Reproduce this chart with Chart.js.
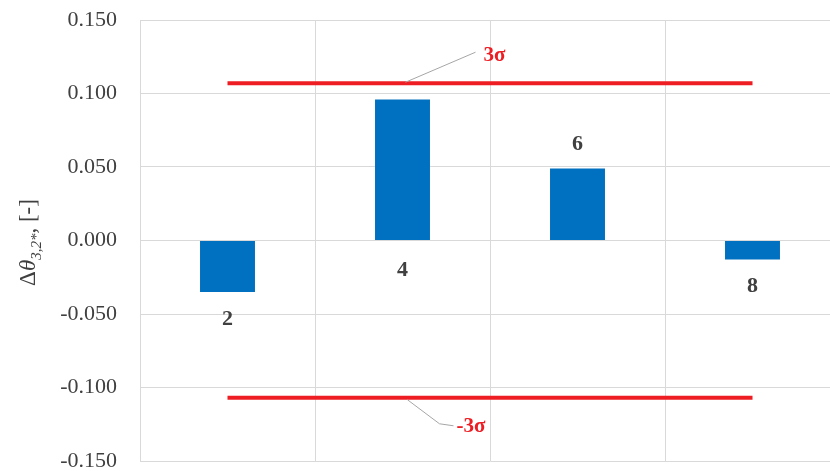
<!DOCTYPE html>
<html>
<head>
<meta charset="utf-8">
<script src="https://cdn.jsdelivr.net/npm/chart.js@4/dist/chart.umd.min.js"></script>
<style>
  html, body { margin: 0; padding: 0; background: #fff; overflow: hidden; }
  #wrap { width: 830px; height: 471px; overflow: hidden; }
</style>
</head>
<body>
<div id="wrap"><canvas id="myChart" width="845" height="471"></canvas></div>
<script>
// values
const categories = ['2', '4', '6', '8'];
const deltaTheta = [-0.035, 0.096, 0.049, -0.013];
const upperLimit = [0.107, 0.107, 0.107, 0.107];   // +3 sigma
const lowerLimit = [-0.107, -0.107, -0.107, -0.107]; // -3 sigma
const yTicks = [-0.150, -0.100, -0.050, 0.000, 0.050, 0.100, 0.150];

const serif = '"Liberation Serif", "Times New Roman", serif';
const blue = '#0070C0';
const red = '#EE1D23';

// category names next to each bar, like the excel data labels
const barLabels = {
  id: 'barLabels',
  afterDatasetsDraw(chart, args, opts) {
    const ctx = chart.ctx;
    const meta = chart.getDatasetMeta(0);
    ctx.save();
    ctx.font = 'bold 22px ' + serif;
    ctx.fillStyle = '#404040';
    ctx.textAlign = 'center';
    ctx.textBaseline = 'middle';
    meta.data.forEach(function (bar, i) {
      const v = deltaTheta[i];
      let y;
      if (opts.side[i] === 'base') {
        y = bar.base + (v >= 0 ? 30 : -30);
      } else {
        y = bar.y + (v >= 0 ? -24 : 27);
      }
      ctx.fillText(categories[i], bar.x, y);
    });
    ctx.restore();
  }
};

// "3σ" / "-3σ" callouts with grey leader lines
const sigmaNotes = {
  id: 'sigmaNotes',
  afterDatasetsDraw(chart) {
    const ctx = chart.ctx;
    const xs = chart.scales.x, ys = chart.scales.y;
    const ax = xs.getPixelForValue(1) + 3;
    const up = ys.getPixelForValue(upperLimit[1]);
    const lo = ys.getPixelForValue(lowerLimit[1]);
    ctx.save();
    ctx.strokeStyle = '#a6a6a6';
    ctx.lineWidth = 1;
    ctx.beginPath();
    ctx.moveTo(ax, up - 1);
    ctx.lineTo(ax + 70, up - 31);
    ctx.stroke();
    ctx.beginPath();
    ctx.moveTo(ax + 2, lo + 2);
    ctx.lineTo(ax + 34, lo + 26);
    ctx.lineTo(ax + 48, lo + 28);
    ctx.stroke();
    ctx.font = 'bold 21px ' + serif;
    ctx.fillStyle = red;
    ctx.textBaseline = 'middle';
    ctx.textAlign = 'left';
    ctx.fillText('3σ', ax + 78, up - 28);
    ctx.fillText('-3σ', ax + 51, lo + 29);
    ctx.restore();
  }
};

// rotated y-axis title with subscript
const yTitle = {
  id: 'yTitle',
  afterDraw(chart) {
    const ctx = chart.ctx;
    const area = chart.chartArea;
    const parts = [
      { t: 'Δ', f: '23px ' + serif, dy: 0 },
      { t: 'θ', f: 'italic 23px ' + serif, dy: 0 },
      { t: '3,2*', f: 'italic 15px ' + serif, dy: 6 },
      { t: ', [-]', f: '23px ' + serif, dy: 0 }
    ];
    ctx.save();
    ctx.fillStyle = '#404040';
    ctx.textBaseline = 'alphabetic';
    let w = 0;
    parts.forEach(p => { ctx.font = p.f; p.w = ctx.measureText(p.t).width; w += p.w; });
    ctx.translate(35, (area.top + area.bottom) / 2 + 2);
    ctx.rotate(-Math.PI / 2);
    let x = -w / 2;
    parts.forEach(p => { ctx.font = p.f; ctx.fillText(p.t, x, p.dy); x += p.w; });
    ctx.restore();
  }
};

const ctx = document.getElementById('myChart').getContext('2d');
const myChart = new Chart(ctx, {
  data: {
    labels: categories,
    datasets: [
      { type: 'bar', data: deltaTheta, backgroundColor: blue, borderWidth: 0,
        categoryPercentage: 1, barPercentage: 0.314, order: 2 },
      { type: 'line', data: upperLimit, borderColor: red, borderWidth: 4,
        pointRadius: 0, borderCapStyle: 'butt', order: 1 },
      { type: 'line', data: lowerLimit, borderColor: red, borderWidth: 4,
        pointRadius: 0, borderCapStyle: 'butt', order: 1 }
    ]
  },
  plugins: [barLabels, sigmaNotes, yTitle],
  options: {
    responsive: false,
    animation: false,
    layout: { padding: { top: 20, right: 5, bottom: 10, left: 0 } },
    plugins: {
      legend: { display: false },
      tooltip: { enabled: false },
      barLabels: { side: ['end', 'base', 'end', 'end'] }
    },
    scales: {
      x: {
        offset: true,
        ticks: { display: false },
        grid: { color: '#d9d9d9', drawTicks: false, offset: true },
        border: { display: false },
        afterFit(scale) { scale.height = 0; scale.paddingLeft = 0; scale.paddingRight = 0; }
      },
      y: {
        min: -0.15, max: 0.15,
        afterBuildTicks(scale) { scale.ticks = yTicks.map(v => ({ value: v })); },
        afterFit(scale) { scale.width = 140; scale.paddingTop = 0; scale.paddingBottom = 0; },
        ticks: {
          padding: 23,
          color: '#404040',
          font: { family: serif, size: 22 },
          callback: v => v.toFixed(3)
        },
        grid: { color: '#d9d9d9', drawTicks: false },
        border: { color: '#d9d9d9' },
        title: { display: false }
      }
    }
  }
});
</script>
</body>
</html>
